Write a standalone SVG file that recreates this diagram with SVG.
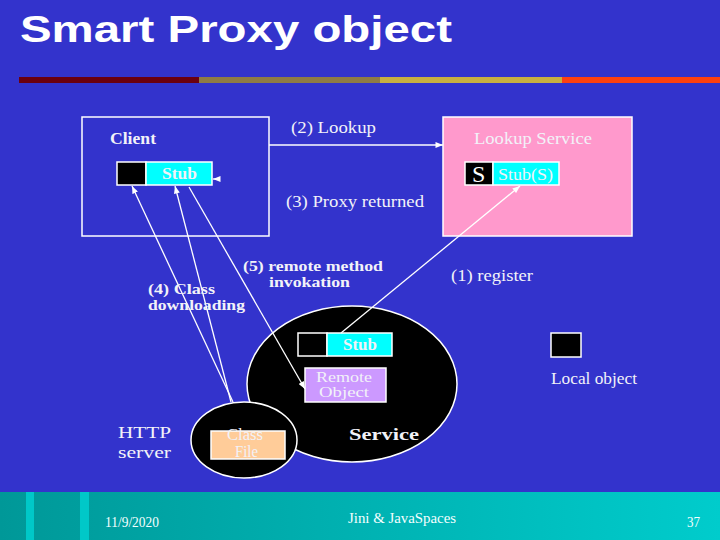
<svg xmlns="http://www.w3.org/2000/svg" width="720" height="540" viewBox="0 0 720 540">
<style>
.t{font-family:"Liberation Serif","Times New Roman",serif;fill:#F2F2F8;font-size:16px}
.s{font-size:14px}
.b{font-weight:bold}
.box{stroke:#FFFFFF;stroke-width:1.5}
.ln{stroke:#FFFFFF;stroke-width:1.3;fill:none}
.ft{font-family:"Liberation Serif","Times New Roman",serif;fill:#F4FFFF;font-size:14px}
</style>
<defs>
<marker id="ah" viewBox="0 0 10 8" refX="10" refY="4" markerWidth="8" markerHeight="6" markerUnits="userSpaceOnUse" orient="auto">
<path d="M0,0 L10,4 L0,8 Z" fill="#FFFFFF"/>
</marker>
<linearGradient id="fg" x1="0" y1="0" x2="1" y2="0">
<stop offset="0" stop-color="#009898"/>
<stop offset="1" stop-color="#00CCCC"/>
</linearGradient>
</defs>
<rect x="0" y="0" width="720" height="540" fill="#3333CC"/>
<g id="title">
<text x="20" y="42" font-family="'Liberation Sans',Arial,sans-serif" font-weight="bold" font-size="37" fill="#FFFFFF" textLength="432" lengthAdjust="spacingAndGlyphs">Smart Proxy object</text>
<rect x="19" y="77" width="180" height="6" fill="#6B0010"/>
<rect x="199" y="77" width="181" height="6" fill="#8E7B45"/>
<rect x="380" y="77" width="182" height="6" fill="#C8B040"/>
<rect x="562" y="77" width="158" height="6" fill="#FF4010"/>
</g>
<g id="client">
<rect class="box" x="82" y="117" width="187" height="119" fill="none"/>
<text class="t b" x="110" y="144" textLength="46" lengthAdjust="spacingAndGlyphs">Client</text>
<rect class="box" x="117" y="162" width="29" height="23" fill="#000000"/>
<rect class="box" x="146" y="162" width="66" height="23" fill="#00FFFF"/>
<text class="t b" x="162" y="179" textLength="35" lengthAdjust="spacingAndGlyphs" fill="#E0FFFF">Stub</text>
</g>
<g id="lookup-service">
<rect class="box" x="443" y="117" width="189" height="119" fill="#FF99CC"/>
<text class="t" x="474" y="144" textLength="118" lengthAdjust="spacingAndGlyphs">Lookup Service</text>
<rect class="box" x="465" y="162" width="28" height="23" fill="#000000"/>
<text x="472" y="182" font-family="'Liberation Serif',serif" font-size="24" fill="#FFFFFF">S</text>
<rect class="box" x="493" y="162" width="66" height="23" fill="#00FFFF"/>
<text class="t" x="498" y="180" textLength="55" lengthAdjust="spacingAndGlyphs">Stub(S)</text>
</g>
<g id="service">
<ellipse class="box" cx="352" cy="384" rx="105" ry="78" fill="#000000"/>
<rect class="box" x="298" y="333" width="29" height="23" fill="#000000"/>
<rect class="box" x="327" y="333" width="65" height="23" fill="#00FFFF"/>
<text class="t b" x="343" y="350" textLength="34" lengthAdjust="spacingAndGlyphs" fill="#E0FFFF">Stub</text>
<rect class="box" x="305" y="368" width="81" height="34" fill="#CC99FF"/>
<text class="t s" x="316" y="382" textLength="56" lengthAdjust="spacingAndGlyphs">Remote</text>
<text class="t s" x="319" y="397" textLength="50" lengthAdjust="spacingAndGlyphs">Object</text>
<text class="t b" x="349" y="440" font-size="20" textLength="70" lengthAdjust="spacingAndGlyphs">Service</text>
</g>
<g id="http-server">
<ellipse class="box" cx="244" cy="440" rx="53" ry="38" fill="#000000"/>
<rect class="box" x="211" y="431" width="74" height="28" fill="#FFCC99"/>
<text class="t" x="227" y="440" font-size="10.5" textLength="36" lengthAdjust="spacingAndGlyphs" fill="#FFF2E4">Class</text>
<text class="t" x="235" y="456.5" font-size="10.5" textLength="23" lengthAdjust="spacingAndGlyphs" fill="#FFF2E4">File</text>
<text class="t" x="118" y="438" font-size="17" textLength="53" lengthAdjust="spacingAndGlyphs">HTTP</text>
<text class="t" x="118" y="458" font-size="17" textLength="53" lengthAdjust="spacingAndGlyphs">server</text>
</g>
<g id="local-object">
<rect class="box" x="551" y="333" width="30" height="24" fill="#000000"/>
<text class="t" x="551" y="384" textLength="86" lengthAdjust="spacingAndGlyphs">Local object</text>
</g>
<g id="connectors">
<line class="ln" x1="269" y1="145" x2="443" y2="145" marker-end="url(#ah)"/>
<line class="ln" x1="341" y1="333" x2="520" y2="186" marker-end="url(#ah)"/>
<line class="ln" x1="233" y1="402" x2="132" y2="186" marker-end="url(#ah)"/>
<line class="ln" x1="231" y1="402" x2="175" y2="186" marker-end="url(#ah)"/>
<line class="ln" x1="189" y1="187" x2="305" y2="389" marker-end="url(#ah)"/>
<line class="ln" x1="219" y1="179" x2="213" y2="179" marker-end="url(#ah)"/>
</g>
<g id="labels">
<text class="t" x="291" y="133" textLength="85" lengthAdjust="spacingAndGlyphs">(2) Lookup</text>
<text class="t" x="286" y="207" textLength="138" lengthAdjust="spacingAndGlyphs">(3) Proxy returned</text>
<text class="t b s" x="243" y="271" textLength="140" lengthAdjust="spacingAndGlyphs">(5) remote method</text>
<text class="t b s" x="269" y="287" textLength="81" lengthAdjust="spacingAndGlyphs">invokation</text>
<text class="t b s" x="148" y="294" textLength="67" lengthAdjust="spacingAndGlyphs">(4) Class</text>
<text class="t b s" x="148" y="310" textLength="97" lengthAdjust="spacingAndGlyphs">downloading</text>
<text class="t" x="451" y="281" textLength="82" lengthAdjust="spacingAndGlyphs">(1) register</text>
</g>
<g id="footer">
<rect x="0" y="492" width="720" height="48" fill="url(#fg)"/>
<rect x="26" y="492" width="8" height="48" fill="#00C8C8"/>
<rect x="80" y="492" width="9" height="48" fill="#00C8C8"/>
<text class="ft" x="105" y="527" textLength="54" lengthAdjust="spacingAndGlyphs">11/9/2020</text>
<text class="ft" x="348" y="523" textLength="108" lengthAdjust="spacingAndGlyphs">Jini &amp; JavaSpaces</text>
<text class="ft" x="687" y="527" textLength="13" lengthAdjust="spacingAndGlyphs">37</text>
</g>
</svg>
